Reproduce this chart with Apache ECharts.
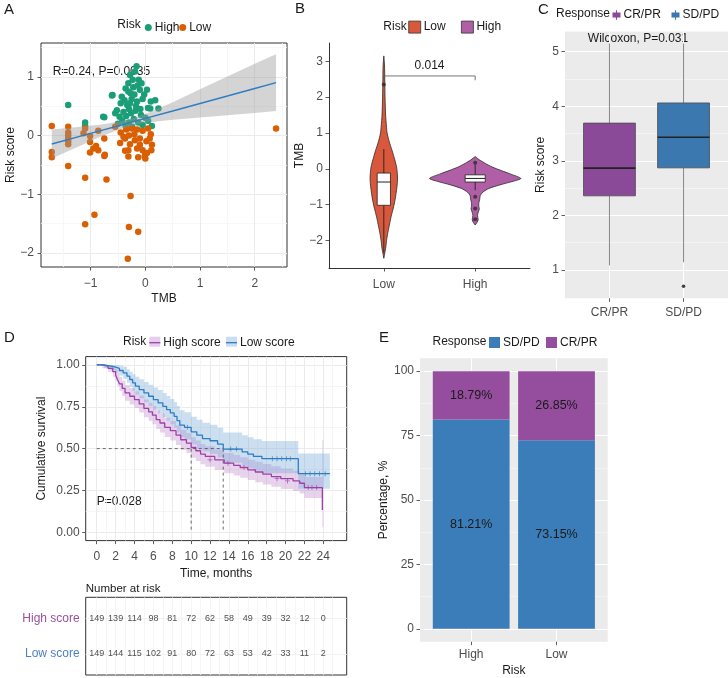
<!DOCTYPE html>
<html>
<head>
<meta charset="utf-8">
<script src="https://cdn.jsdelivr.net/npm/echarts@6/dist/echarts.min.js"></script>
<style>html,body{margin:0;padding:0;background:#fff}#c{width:728px;height:678px}</style>
</head>
<body>
<div id="c"></div>
<script>
// ---------------- DATA ----------------
// Panel A: TMB vs risk score
const aHigh = [[-1.41,0.52],[-1.10,0.22],[-1.10,0.16],[-0.75,0.31],[-0.60,0.69],[-0.55,0.38],[-0.16,1.18],[-0.19,1.09],[-0.07,0.89],[-0.28,1.03],[0.18,0.60],[0.05,0.47],[0.12,0.16],[-0.31,0.89],[-0.61,0.68],[-0.43,0.66],[-0.31,0.75],[-0.10,0.78],[0.03,0.78],[-0.77,0.32],[0.24,0.46],[0.09,0.46],[-0.45,0.55],[-0.38,0.60],[-0.33,0.52],[-0.25,0.62],[-0.20,0.70],[-0.15,0.58],[-0.05,0.62],[-0.22,0.82],[-0.36,0.80],[-0.12,0.95],[-0.30,0.45],[-0.40,0.40],[-0.47,0.32],[-0.35,0.33],[-0.26,0.38],[-0.18,0.42],[-0.08,0.35],[0.00,0.30],[-0.42,0.25],[-0.30,0.22],[-0.21,0.28],[-0.13,0.22],[-0.05,0.18],[0.05,0.25],[-0.50,0.20],[-0.36,0.17],[-0.24,0.15],[-0.17,0.50],[-0.27,0.72],[-0.23,0.95],[-0.14,0.85],[-0.02,0.70],[0.10,0.58],[-0.09,0.45],[-0.28,0.55],[-0.52,0.43]];
const aLow = [[-1.71,0.16],[-1.41,0.15],[-1.41,0.05],[-1.41,0.0],[-1.41,-0.05],[-1.41,-0.10],[-1.41,-0.15],[-1.10,0.12],[-1.13,0.04],[-1.01,-0.01],[-0.86,0.08],[-0.55,0.15],[-0.75,-0.05],[-1.01,-0.11],[-1.71,-0.28],[-1.71,-0.37],[-1.41,-0.52],[-1.10,-0.72],[-0.71,-0.75],[-0.27,-1.03],[-0.93,-1.35],[-1.10,-1.51],[-0.30,-1.56],[-0.13,-1.64],[-0.32,-2.10],[-1.01,-0.29],[-0.75,-0.35],[-0.37,-0.26],[-0.31,-0.36],[-0.13,-0.37],[0.0,-0.39],[0.0,-0.30],[0.11,-0.25],[-0.95,-0.22],[-0.90,-0.18],[-0.86,-0.25],[-0.74,-0.33],[-0.46,-0.13],[-0.37,-0.05],[-0.31,-0.25],[-0.01,-0.36],[0.03,-0.30],[0.12,-0.16],[-0.10,-0.16],[-0.19,-0.08],[-0.35,0.10],[-0.25,0.12],[-0.15,0.10],[-0.05,0.08],[0.05,0.12],[0.10,0.02],[-0.20,0.02],[-0.30,0.0],[-0.40,-0.02],[-0.10,-0.05],[0.02,-0.10],[-0.28,-0.15],[-0.15,-0.22],[-0.05,-0.25],[0.08,-0.05],[-0.45,0.05],[2.39,0.12]];
const fitX  = [-1.71,-1.2,-0.8,-0.5,-0.3,0,0.5,1.0,1.5,2.0,2.39];
const fitY  = [-0.145,-0.015,0.087,0.163,0.215,0.291,0.418,0.546,0.673,0.801,0.90];
const fitLo = [-0.39,-0.18,-0.013,0.093,0.155,0.216,0.268,0.306,0.343,0.381,0.415];
const fitHi = [0.10,0.15,0.187,0.233,0.275,0.366,0.568,0.786,1.003,1.221,1.385];
const aXTicks = [-1,0,1,2], aXMinor = [-1.5,-0.5,0.5,1.5,2.5];
const aYTicks = [-2,-1,0,1], aYMinor = [-1.5,-0.5,0.5,1.5];

// Panel B: TMB violins by risk
const bCategories = ['Low','High'];
const bLowLevels  = [3.15,2.9,2.5,2.0,1.5,1.2,1.0,0.75,0.5,0.25,0.05,-0.15,-0.31,-0.5,-0.87,-1.1,-1.34,-1.6,-1.81,-2.0,-2.18,-2.35,-2.5];
const bLowDensity = [0,0.05,0.07,0.09,0.13,0.19,0.24,0.40,0.61,0.80,0.93,0.99,1.0,0.96,0.82,0.69,0.53,0.39,0.28,0.20,0.15,0.07,0];
const bHighLevels  = [0.34,0.25,0.15,0.05,-0.05,-0.15,-0.27,-0.35,-0.45,-0.55,-0.65,-0.75,-0.85,-0.95,-1.05,-1.12,-1.2,-1.3,-1.42,-1.5,-1.57];
const bHighDensity = [0,0.09,0.22,0.37,0.57,0.78,1.0,0.83,0.54,0.30,0.17,0.11,0.10,0.08,0.08,0.09,0.07,0.05,0.065,0.04,0];
const bPeak = [0.30, 1.0];
const bBoxes = [[-2.35,-1.02,-0.37,-0.12,0.55],[-0.6,-0.37,-0.27,-0.17,0.12]]; // lo,q1,med,q3,hi
const bOutliers = [[1,2.35],[2,0.17],[2,-0.78],[2,-1.11],[2,-1.41]];
const bYTicks = [-2,-1,0,1,2,3];
const bPText = '0.014', bBracketY = 2.59, bBracketTip = 2.47;

// Panel C: risk score by response
const cCategories = ['CR/PR','SD/PD'];
const cBoxes = [[1.08,2.357,2.865,3.69,5.15],[1.14,2.87,3.43,4.06,5.15]];
const cOutliers = [[2,0.70]];
const cYTicks = [1,2,3,4,5], cYMinor = [1.5,2.5,3.5,4.5];

// Panel D: Kaplan-Meier
const kmLowT  = [0,0.8,1.5,2.0,2.4,2.8,3.2,3.5,3.8,4.1,4.5,5.0,5.5,6.0,6.5,7.0,7.4,7.8,8.2,8.5,8.8,9.3,10.0,10.6,11.2,12.0,12.8,13.4,15.4,16.0,16.6,17.5,21.35,24.7];
const kmLowS  = [1,.993,.987,.98,.967,.953,.933,.913,.893,.873,.853,.833,.813,.793,.773,.753,.733,.713,.693,.667,.64,.627,.60,.58,.56,.547,.527,.497,.48,.467,.453,.44,.35,.35];
const kmLowHi = [1,1,1,1,.995,.99,.975,.96,.945,.93,.915,.898,.882,.866,.85,.832,.815,.796,.778,.754,.73,.718,.69,.672,.654,.642,.624,.596,.58,.568,.556,.545,.47,.47];
const kmLowLo = [1,.98,.97,.955,.937,.918,.893,.868,.845,.822,.8,.777,.755,.733,.71,.688,.667,.646,.624,.596,.568,.554,.525,.503,.482,.468,.447,.415,.397,.383,.368,.353,.26,.26];
const kmLowEnd = 24.7;
const kmHighT  = [0,0.6,1.2,1.7,2.0,2.2,2.4,2.7,3.0,3.5,4.0,4.5,5.0,5.5,5.9,6.3,6.7,7.2,7.8,8.4,8.9,9.5,10.0,10.5,11.0,11.5,12.5,13.5,14.5,15.2,16.0,16.8,17.6,18.5,19.5,20.8,21.5,22.0,23.9];
const kmHighS  = [1,.993,.98,.96,.94,.913,.887,.86,.833,.813,.793,.767,.74,.72,.70,.673,.653,.627,.607,.58,.553,.533,.507,.487,.467,.453,.433,.413,.40,.387,.373,.36,.347,.333,.32,.307,.293,.267,.133];
const kmHighHi = [1,1,1,.99,.975,.953,.93,.905,.88,.862,.843,.818,.793,.774,.755,.729,.71,.685,.665,.639,.613,.593,.568,.548,.528,.514,.494,.474,.461,.448,.434,.421,.408,.394,.381,.368,.354,.33,.55];
const kmHighLo = [1,.98,.96,.93,.905,.873,.844,.815,.786,.764,.743,.716,.687,.666,.645,.617,.596,.569,.549,.521,.493,.473,.446,.426,.406,.392,.372,.352,.339,.326,.312,.299,.286,.272,.259,.246,.232,.204,.03];
const kmHighEnd = 24.0;
const kmLowCensor  = [[9.6,.627],[14.2,.497],[14.8,.497],[18.6,.44],[19.1,.44],[19.6,.44],[20.1,.44],[20.5,.44],[22.1,.35],[22.6,.35],[23.1,.35],[23.6,.35],[24.2,.35]];
const kmHighCensor = [[12.0,.433],[13.9,.413],[15.6,.387],[19.1,.32],[20.2,.307],[22.4,.267],[22.8,.267],[23.3,.267]];
const kmMedians = [10.0, 13.4];
const kmXTicks = [0,2,4,6,8,10,12,14,16,18,20,22,24];
const kmXMinor = [1,3,5,7,9,11,13,15,17,19,21,23,25];
const kmYTicks = [0,0.25,0.5,0.75,1], kmYMinor = [0.125,0.375,0.625,0.875];
const riskRows = ['High score','Low score'];
const riskTimes = [0,2,4,6,8,10,12,14,16,18,20,22,24];
const riskHigh = [149,139,114,98,81,72,62,58,49,39,32,12,0];
const riskLow  = [149,144,115,102,91,80,72,63,53,42,33,11,2];

// Panel E: stacked percentage bars
const eCategories = ['High','Low'];
const eSDPD = [81.21, 73.15];
const eCRPR = [18.79, 26.85];
const eYTicks = [0,25,50,75,100], eYMinor = [12.5,37.5,62.5,87.5];

// ---------------- STYLE / RENDER ----------------
const FONT = '"Liberation Sans", Arial, Helvetica, sans-serif';
const TXT = '#1a1a1a', TICK = '#4d4d4d';
const minus = v => (v < 0 ? '\u2212' : '') + Math.abs(v);
const chart = echarts.init(document.getElementById('c'), null, {width:728, height:678});

function hiddenAxis(grid, min, max, vals, color, extra) {
  return Object.assign({
    type:'value', gridIndex:grid, min:min, max:max,
    axisLine:{show:false, onZero:false}, axisTick:{show:true, length:0, customValues:vals},
    axisLabel:{show:false, customValues:vals},
    splitLine:{show:true, lineStyle:{color:color, width:0.8}}
  }, extra || {});
}
function mainAxis(grid, min, max, ticks, o) {
  const ax = {
    type:'value', gridIndex:grid, min:min, max:max,
    axisLine:{show:false, onZero:false},
    axisTick:{show:true, length:3.5, lineStyle:{color:'#333', width:0.8}, customValues:ticks},
    axisLabel:{customValues:ticks, color:TICK, fontSize:12, fontFamily:FONT, margin:6, formatter:minus},
    splitLine:{show:true, lineStyle:{color:'#EBEBEB', width:1}},
    nameLocation:'middle', nameTextStyle:{color:TXT, fontSize:12, fontFamily:FONT}
  };
  for (const k in o) {
    if (o[k] && typeof o[k] === 'object' && !Array.isArray(o[k]) && ax[k] && typeof ax[k] === 'object') ax[k] = Object.assign({}, ax[k], o[k]);
    else ax[k] = o[k];
  }
  return ax;
}

function fitBand(params, api) {
  if (params.dataIndex !== 0) return null;
  const pts = [];
  for (let i = 0; i < fitX.length; i++) pts.push(api.coord([fitX[i], fitHi[i]]));
  for (let i = fitX.length - 1; i >= 0; i--) pts.push(api.coord([fitX[i], fitLo[i]]));
  return {type:'polygon', shape:{points:pts}, style:{fill:'rgba(153,153,153,0.42)'}};
}
function violin(levels, dens, peak, xi) {
  return function (params, api) {
    if (params.dataIndex !== 0) return null;
    const W = 0.5 * peak, right = [], left = [];
    for (let i = 0; i < levels.length; i++) {
      right.push(api.coord([xi + dens[i] * W, levels[i]]));
      left.push(api.coord([xi - dens[i] * W, levels[i]]));
    }
    return {type:'polygon', shape:{points:right.concat(left.reverse()), smooth:0.25},
      style:{fill:api.visual('color'), stroke:'#2b2b2b', lineWidth:0.8}};
  };
}
function boxShape(api, bw, fill, stroke, whisker, medW) {
  const x = api.value(0), lo = api.value(1), q1 = api.value(2), md = api.value(3), q3 = api.value(4), hi = api.value(5);
  const c = y => api.coord([x, y]);
  const tl = api.coord([x - bw / 2, q3]), br = api.coord([x + bw / 2, q1]);
  const ml = api.coord([x - bw / 2, md]), mr = api.coord([x + bw / 2, md]);
  return {type:'group', children:[
    {type:'line', shape:{x1:c(hi)[0], y1:c(hi)[1], x2:c(q3)[0], y2:c(q3)[1]}, style:{stroke:whisker, lineWidth:0.9}},
    {type:'line', shape:{x1:c(lo)[0], y1:c(lo)[1], x2:c(q1)[0], y2:c(q1)[1]}, style:{stroke:whisker, lineWidth:0.9}},
    {type:'rect', shape:{x:tl[0], y:tl[1], width:br[0] - tl[0], height:br[1] - tl[1]}, style:{fill:fill, stroke:stroke, lineWidth:0.8}},
    {type:'line', shape:{x1:ml[0], y1:ml[1], x2:mr[0], y2:mr[1]}, style:{stroke:'#222', lineWidth:medW}}
  ]};
}
function stepBand(T, LO, HI, tEnd, fill) {
  return function (params, api) {
    if (params.dataIndex !== 0) return null;
    const up = [], dn = [];
    for (let i = 0; i < T.length; i++) {
      const nx = i < T.length - 1 ? T[i + 1] : tEnd;
      up.push(api.coord([T[i], HI[i]]), api.coord([nx, HI[i]]));
      dn.push(api.coord([T[i], LO[i]]), api.coord([nx, LO[i]]));
    }
    return {type:'polygon', shape:{points:up.concat(dn.reverse())}, style:{fill:fill}};
  };
}
function stackBar(params, api) {
  const x = api.value(0), b = api.value(1), t = api.value(2);
  const p0 = api.coord([x - 0.45, t]), p1 = api.coord([x + 0.45, b]), m = api.coord([x, (b + t) / 2]);
  return {type:'group', children:[
    {type:'rect', shape:{x:p0[0], y:p0[1], width:p1[0] - p0[0], height:p1[1] - p0[1]}, style:{fill:api.visual('color')}},
    {type:'text', x:m[0], y:m[1], style:{text:(t - b).toFixed(2) + '%', fill:'#1a1a1a', font:'12.5px ' + FONT, textAlign:'center', textVerticalAlign:'middle'}}
  ]};
}
const plusIcon = 'path://M4.2,0H5.8V10H4.2Z M0,4.2H10V5.8H0Z';
const legendBase = (left, top, name, w, h, extra) => Object.assign({
  show:true, left:left, top:top, padding:0, orient:'horizontal', itemGap:0,
  itemWidth:w, itemHeight:h, selectedMode:false, data:[name],
  formatter: n => n.replace(/^[A-Z]-/, ''),
  textStyle:{color:TXT, fontSize:12, fontFamily:FONT, padding:[0,0,0,-2]}
}, extra || {});
const txt = (x, y, s, o) => ({type:'text', x:x, y:y, style:Object.assign({text:s, fill:TXT, font:'12px ' + FONT, textVerticalAlign:'middle', textAlign:'left'}, o || {})});

const option = {
  animation:false,
  textStyle:{fontFamily:FONT},
  grid:[
    {left:41, top:43, width:246, height:224, show:true, borderColor:'#333', borderWidth:1, backgroundColor:'#fff', outerBoundsMode:'none'},
    {left:329, top:43, width:201, height:225, show:false, outerBoundsMode:'none'},
    {left:565, top:31.5, width:163, height:266.8, show:true, borderWidth:0, backgroundColor:'#EBEBEB', outerBoundsMode:'none'},
    {left:85.7, top:356.6, width:261, height:184, show:true, borderColor:'#333', borderWidth:1, backgroundColor:'#fff', outerBoundsMode:'none'},
    {left:85.7, top:597.3, width:261, height:77.7, show:true, borderColor:'#333', borderWidth:1, backgroundColor:'#fff', outerBoundsMode:'none'},
    {left:420, top:358.3, width:187.7, height:283.4, show:true, borderWidth:0, backgroundColor:'#EBEBEB', outerBoundsMode:'none'}
  ],
  xAxis:[
    mainAxis(0, -1.907, 2.59, aXTicks, {name:'TMB', nameGap:26, axisLabel:{margin:11}}),
    hiddenAxis(0, -1.907, 2.59, aXMinor, '#F5F5F5'),
    mainAxis(1, 0.4, 2.6, [1,2], {axisLine:{show:true, onZero:false, lineStyle:{color:'#333', width:1}}, splitLine:{show:false},
      axisLabel:{margin:11, formatter:v => bCategories[Math.round(v) - 1]}}),
    mainAxis(2, 0.4, 2.6, [1,2], {splitLine:{show:true, lineStyle:{color:'#fff', width:1}},
      axisLabel:{margin:8, formatter:v => cCategories[Math.round(v) - 1]}}),
    mainAxis(3, -1.17, 26.48, kmXTicks, {name:'Time, months', nameGap:27, axisLabel:{margin:10}}),
    hiddenAxis(3, -1.17, 26.48, kmXMinor, '#F3F3F3'),
    hiddenAxis(4, -1.17, 26.48, kmXTicks.concat(kmXMinor), '#F2F2F2'),
    mainAxis(5, 0.4, 2.6, [1,2], {name:'Risk', nameGap:23, splitLine:{show:true, lineStyle:{color:'#fff', width:1}},
      axisLabel:{margin:7, formatter:v => eCategories[Math.round(v) - 1]}})
  ],
  yAxis:[
    mainAxis(0, -2.24, 1.575, aYTicks, {name:'Risk score', nameGap:22, axisLabel:{margin:7}}),
    hiddenAxis(0, -2.24, 1.575, aYMinor, '#F5F5F5'),
    mainAxis(1, -2.77, 3.51, bYTicks, {name:'TMB', nameGap:22, axisLine:{show:true, onZero:false, lineStyle:{color:'#333', width:1}}, splitLine:{show:false}}),
    mainAxis(2, 0.478, 5.37, cYTicks, {name:'Risk score', nameGap:18, splitLine:{show:true, lineStyle:{color:'#fff', width:1}}}),
    hiddenAxis(2, 0.478, 5.37, cYMinor, '#F6F6F6'),
    mainAxis(3, -0.05, 1.05, kmYTicks, {name:'Cumulative survival', nameGap:38, axisLabel:{margin:6, formatter:v => v.toFixed(2)}}),
    hiddenAxis(3, -0.05, 1.05, kmYMinor, '#F3F3F3'),
    mainAxis(4, 0.4, 2.6, [1,2], {inverse:true, axisTick:{show:false}, splitLine:{show:true, lineStyle:{color:'#F2F2F2'}},
      axisLabel:{margin:6, formatter:v => riskRows[Math.round(v) - 1], color:v => (Math.round(v) === 1 ? '#9A4F9F' : '#4E7FC3')}}),
    mainAxis(5, -5, 105, eYTicks, {name:'Percentage, %', nameGap:30, splitLine:{show:true, lineStyle:{color:'#fff', width:1}}}),
    hiddenAxis(5, -5, 105, eYMinor, '#F5F5F5')
  ],
  legend:[
    legendBase(144.8, 21.5, 'High', 7, 7, {icon:'circle'}),
    legendBase(179.2, 21.5, 'Low', 7, 7, {icon:'circle'}),
    legendBase(408.3, 20.7, 'B-Low', 12, 12, {icon:'rect', itemStyle:{borderColor:'#333', borderWidth:0.8}}),
    legendBase(461, 20.7, 'B-High', 12, 12, {icon:'rect', itemStyle:{borderColor:'#333', borderWidth:0.8}}),
    legendBase(612.5, 9, 'CR/PR', 8, 10, {icon:'path://M0,3H10V9H0Z M4.3,0H5.7V12H4.3Z'}),
    legendBase(671.5, 9, 'SD/PD', 8, 10, {icon:'path://M0,3H10V9H0Z M4.3,0H5.7V12H4.3Z'}),
    legendBase(149.3, 336.7, 'High score', 11, 10, {icon:'path://M0,4.4H10V5.6H0Z'}),
    legendBase(226, 336.7, 'Low score', 11, 10, {icon:'path://M0,4.4H10V5.6H0Z'}),
    legendBase(489, 336.5, 'E-SD/PD', 11, 11, {icon:'rect'}),
    legendBase(546, 336.5, 'E-CR/PR', 11, 11, {icon:'rect'})
  ],
  graphic:[
    {type:'rect', z:0, shape:{x:149.3, y:336.7, width:11, height:10}, style:{fill:'#E6CDEB'}},
    {type:'rect', z:0, shape:{x:226, y:336.7, width:11, height:10}, style:{fill:'#C9DEF1'}},
    txt(4, 10, 'A', {font:'15px ' + FONT}),
    txt(295, 9, 'B', {font:'15px ' + FONT}),
    txt(538, 10, 'C', {font:'15px ' + FONT}),
    txt(4, 338, 'D', {font:'15px ' + FONT}),
    txt(379, 338, 'E', {font:'15px ' + FONT}),
    txt(117.3, 25, 'Risk'),
    txt(383.3, 26.7, 'Risk'),
    txt(556, 14, 'Response'),
    txt(123, 341.7, 'Risk'),
    txt(432.5, 341.7, 'Response'),
    txt(52.7, 71.7, 'R=0.24, P=0.0035'),
    txt(638, 39, 'Wilcoxon, P=0.031', {textAlign:'center'}),
    txt(96.7, 501.7, 'P=0.028'),
    txt(85.7, 589, 'Number at risk', {font:'11.5px ' + FONT})
  ],
  series:[
    // A
    {type:'scatter', name:'High', xAxisIndex:0, yAxisIndex:0, data:aHigh, symbolSize:6.5, itemStyle:{color:'#1B9E77', opacity:1}, z:2},
    {type:'scatter', name:'Low', xAxisIndex:0, yAxisIndex:0, data:aLow, symbolSize:6.5, itemStyle:{color:'#D95F02', opacity:1}, z:2},
    {type:'custom', xAxisIndex:0, yAxisIndex:0, data:[[fitX[0], fitY[0]]], renderItem:fitBand, z:3, silent:true},
    {type:'line', xAxisIndex:0, yAxisIndex:0, data:fitX.map((x, i) => [x, fitY[i]]), symbol:'none', lineStyle:{color:'#2F7EC4', width:1.5}, z:4},
    // B
    {type:'custom', name:'B-Low', xAxisIndex:2, yAxisIndex:2, data:[[1, bLowLevels[0]]], itemStyle:{color:'#D9583B'}, renderItem:violin(bLowLevels, bLowDensity, bPeak[0], 1), z:2},
    {type:'custom', name:'B-High', xAxisIndex:2, yAxisIndex:2, data:[[2, bHighLevels[0]]], itemStyle:{color:'#B05EA6'}, renderItem:violin(bHighLevels, bHighDensity, bPeak[1], 2), z:2},
    {type:'custom', xAxisIndex:2, yAxisIndex:2, data:bBoxes.map((b, i) => [i + 1].concat(b)), z:3,
      renderItem:(params, api) => boxShape(api, [0.145, 0.22][params.dataIndex], '#fff', '#222', '#222', 1)},
    {type:'scatter', xAxisIndex:2, yAxisIndex:2, data:bOutliers, symbolSize:4, itemStyle:{color:'#2a2a2a'}, z:4},
    {type:'custom', xAxisIndex:2, yAxisIndex:2, data:[[1.5, bBracketY]], z:4, renderItem:(params, api) => {
      const a = api.coord([1, bBracketTip]), b = api.coord([1, bBracketY]), c = api.coord([2, bBracketY]), d = api.coord([2, bBracketTip]);
      const m = api.coord([1.5, bBracketY]);
      return {type:'group', children:[
        {type:'polyline', shape:{points:[a, b, c, d]}, style:{stroke:'#555', lineWidth:0.8, fill:null}},
        {type:'text', x:m[0], y:m[1] - 4, style:{text:bPText, fill:TXT, font:'12px ' + FONT, textAlign:'center', textVerticalAlign:'bottom'}}
      ]};
    }},
    // C
    {type:'custom', name:'CR/PR', xAxisIndex:3, yAxisIndex:3, data:[[1].concat(cBoxes[0])], itemStyle:{color:'#8B4A98'}, z:3,
      renderItem:(params, api) => boxShape(api, 0.7, api.visual('color'), '#4a4a4a', '#7a7a7a', 1.6)},
    {type:'custom', name:'SD/PD', xAxisIndex:3, yAxisIndex:3, data:[[2].concat(cBoxes[1])], itemStyle:{color:'#3B78AF'}, z:3,
      renderItem:(params, api) => boxShape(api, 0.7, api.visual('color'), '#4a4a4a', '#7a7a7a', 1.6)},
    {type:'scatter', xAxisIndex:3, yAxisIndex:3, data:cOutliers, symbolSize:3.5, itemStyle:{color:'#111'}, z:4},
    // D
    {type:'custom', xAxisIndex:4, yAxisIndex:5, data:[[0, 1]], renderItem:stepBand(kmHighT, kmHighLo, kmHighHi, kmHighEnd, 'rgba(178,110,196,0.30)'), z:2, silent:true},
    {type:'custom', xAxisIndex:4, yAxisIndex:5, data:[[0, 1]], renderItem:stepBand(kmLowT, kmLowLo, kmLowHi, kmLowEnd, 'rgba(110,165,215,0.36)'), z:2, silent:true},
    {type:'custom', xAxisIndex:4, yAxisIndex:5, data:kmMedians.map(m => [m, 0.5]), z:3, renderItem:(params, api) => {
      const m = api.value(0);
      const top = api.coord([m, 0.5]), bot = api.coord([m, 0]);
      const ch = [{type:'line', shape:{x1:top[0], y1:top[1], x2:bot[0], y2:bot[1]}, style:{stroke:'#444', lineWidth:0.8, lineDash:[3, 3]}}];
      if (params.dataIndex === kmMedians.length - 1) {
        const l = api.coord([0, 0.5]);
        ch.push({type:'line', shape:{x1:l[0], y1:l[1], x2:top[0], y2:top[1]}, style:{stroke:'#444', lineWidth:0.8, lineDash:[3, 3]}});
      }
      return {type:'group', children:ch};
    }},
    {type:'line', name:'High score', xAxisIndex:4, yAxisIndex:5, step:'end', data:kmHighT.map((t, i) => [t, kmHighS[i]]), symbol:'none', lineStyle:{color:'#9C41A8', width:1.3}, itemStyle:{color:'#9C41A8'}, z:4},
    {type:'line', name:'Low score', xAxisIndex:4, yAxisIndex:5, step:'end', data:kmLowT.map((t, i) => [t, kmLowS[i]]), symbol:'none', lineStyle:{color:'#2E7CC2', width:1.3}, itemStyle:{color:'#2E7CC2'}, z:4},
    {type:'scatter', xAxisIndex:4, yAxisIndex:5, data:kmHighCensor, symbol:plusIcon, symbolSize:5, itemStyle:{color:'#9C41A8'}, z:5},
    {type:'scatter', xAxisIndex:4, yAxisIndex:5, data:kmLowCensor, symbol:plusIcon, symbolSize:5, itemStyle:{color:'#2E7CC2'}, z:5},
    // risk table
    {type:'scatter', xAxisIndex:6, yAxisIndex:7, data:riskTimes.map((t, i) => [t, 1, riskHigh[i]]), symbolSize:1, itemStyle:{color:'rgba(0,0,0,0)'},
      label:{show:true, position:'inside', formatter:p => p.value[2], fontSize:9, color:'#222', fontFamily:FONT}},
    {type:'scatter', xAxisIndex:6, yAxisIndex:7, data:riskTimes.map((t, i) => [t, 2, riskLow[i]]), symbolSize:1, itemStyle:{color:'rgba(0,0,0,0)'},
      label:{show:true, position:'inside', formatter:p => p.value[2], fontSize:9, color:'#222', fontFamily:FONT}},
    // E
    {type:'custom', name:'E-SD/PD', xAxisIndex:7, yAxisIndex:8, data:eSDPD.map((v, i) => [i + 1, 0, v]), itemStyle:{color:'#3A7DB8'}, renderItem:stackBar, z:3},
    {type:'custom', name:'E-CR/PR', xAxisIndex:7, yAxisIndex:8, data:eCRPR.map((v, i) => [i + 1, eSDPD[i], eSDPD[i] + v]), itemStyle:{color:'#954E9E'}, renderItem:stackBar, z:3}
  ]
};
chart.setOption(option);
</script>
</body>
</html>
